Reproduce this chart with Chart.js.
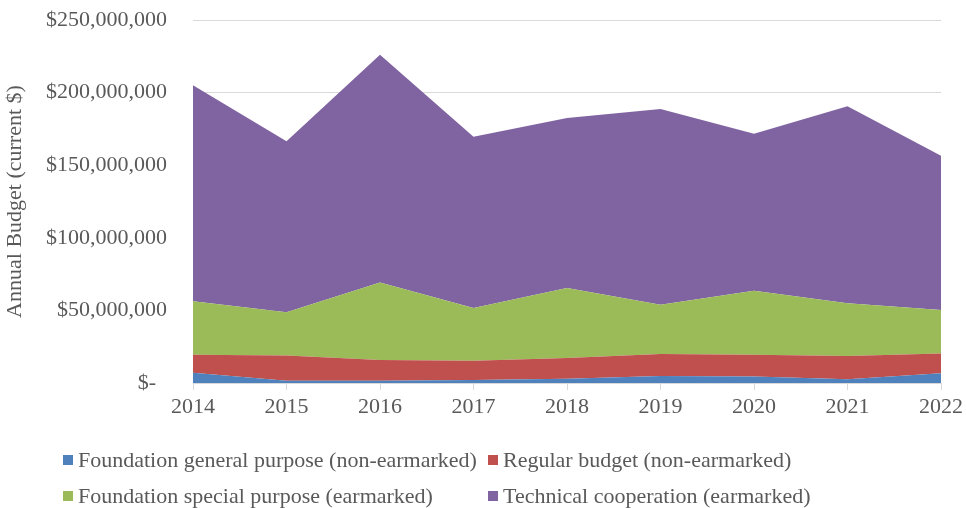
<!DOCTYPE html>
<html>
<head>
<meta charset="utf-8">
<script src="https://cdn.jsdelivr.net/npm/chart.js@4/dist/chart.umd.min.js"></script>
<style>
  html, body { margin: 0; padding: 0; background: #ffffff; }
  #wrap { position: relative; width: 966px; height: 508px; }
  #c { position: absolute; left: 0; top: 0; }
  .leg { position: absolute; font-family: "Liberation Serif", "Times New Roman", serif; font-size: 22px; color: #595959; white-space: nowrap; line-height: 26px; }
  .leg .sw { position: absolute; left: 0; top: 8px; width: 10px; height: 10px; }
  .leg .tx { position: absolute; left: 15px; top: 0; }
</style>
</head>
<body>
<div id="wrap">
  <canvas id="c" width="966" height="508"></canvas>
  <div id="legend"></div>
</div>
<script>
// ---- data (values in US$) ----
const years = ['2014', '2015', '2016', '2017', '2018', '2019', '2020', '2021', '2022'];
const foundationGeneral = [7100000, 1600000, 1600000, 2000000, 3000000, 4800000, 4400000, 2500000, 6700000];
const regularBudget = [12400000, 17400000, 14200000, 13400000, 14200000, 15200000, 15100000, 16100000, 13700000];
const foundationSpecial = [36800000, 29700000, 53500000, 36300000, 48200000, 33900000, 44100000, 36300000, 29900000];
const technicalCooperation = [148700000, 117800000, 156700000, 117900000, 117100000, 134800000, 108100000, 135700000, 106200000];
const seriesNames = [
  'Foundation general purpose (non-earmarked)',
  'Regular budget (non-earmarked)',
  'Foundation special purpose (earmarked)',
  'Technical cooperation (earmarked)'
];
const yTickValues = [0, 50000000, 100000000, 150000000, 200000000, 250000000];
const yTickLabels = ['$-\u00a0\u00a0', '$50,000,000', '$100,000,000', '$150,000,000', '$200,000,000', '$250,000,000'];
const yTitle = 'Annual Budget (current $)';

const colors = ['#4F81BD', '#C0504D', '#9BBB59', '#8064A2'];
const seriesData = [foundationGeneral, regularBudget, foundationSpecial, technicalCooperation];
const FONT = '"Liberation Serif", "Times New Roman", serif';
const TXT = '#595959';

const datasets = seriesData.map((d, i) => ({
  label: seriesNames[i],
  data: d,
  backgroundColor: colors[i],
  borderColor: colors[i],
  borderWidth: 0,
  pointRadius: 0,
  pointHoverRadius: 0,
  tension: 0,
  fill: i === 0 ? 'origin' : '-1'
}));

new Chart(document.getElementById('c'), {
  type: 'line',
  data: { labels: years, datasets },
  options: {
    responsive: false,
    animation: false,
    events: [],
    layout: { padding: { left: 0, right: 25, top: 20, bottom: 0 } },
    plugins: { legend: { display: false }, tooltip: { enabled: false }, title: { display: false } },
    scales: {
      x: {
        offset: false,
        grid: { drawOnChartArea: false, drawTicks: true, tickLength: 7, color: '#D9D9D9' },
        border: { display: true, color: '#D9D9D9', width: 1 },
        ticks: { font: { family: FONT, size: 22 }, color: TXT, padding: 4, maxRotation: 0, autoSkip: false },
        afterFit: s => { s.height = 125; s.paddingLeft = 0; s.paddingRight = 0; }
      },
      y: {
        stacked: true,
        min: 0,
        max: 250000000,
        afterBuildTicks: s => { s.ticks = yTickValues.map(v => ({ value: v })); },
        grid: { color: '#D9D9D9', drawTicks: false, lineWidth: 1 },
        border: { display: false },
        ticks: {
          font: { family: FONT, size: 22 }, color: TXT, padding: 26,
          callback: (v) => { const k = yTickValues.indexOf(v); return k >= 0 ? yTickLabels[k] : ''; }
        },
        title: { display: true, text: yTitle, font: { family: FONT, size: 22 }, color: TXT, padding: { top: 2, bottom: 0 } },
        afterFit: s => { s.width = 193; s.paddingTop = 0; s.paddingBottom = 0; }
      }
    }
  }
});

// ---- legend (HTML, two columns) ----
const legend = document.getElementById('legend');
const legPos = [[63, 447], [488, 447], [63, 483], [488, 483]];
seriesNames.forEach((name, i) => {
  const d = document.createElement('div');
  d.className = 'leg';
  d.style.left = legPos[i][0] + 'px';
  d.style.top = legPos[i][1] + 'px';
  d.innerHTML = '<span class="sw" style="background:' + colors[i] + '"></span><span class="tx"></span>';
  d.querySelector('.tx').textContent = name;
  legend.appendChild(d);
});
</script>
</body>
</html>
